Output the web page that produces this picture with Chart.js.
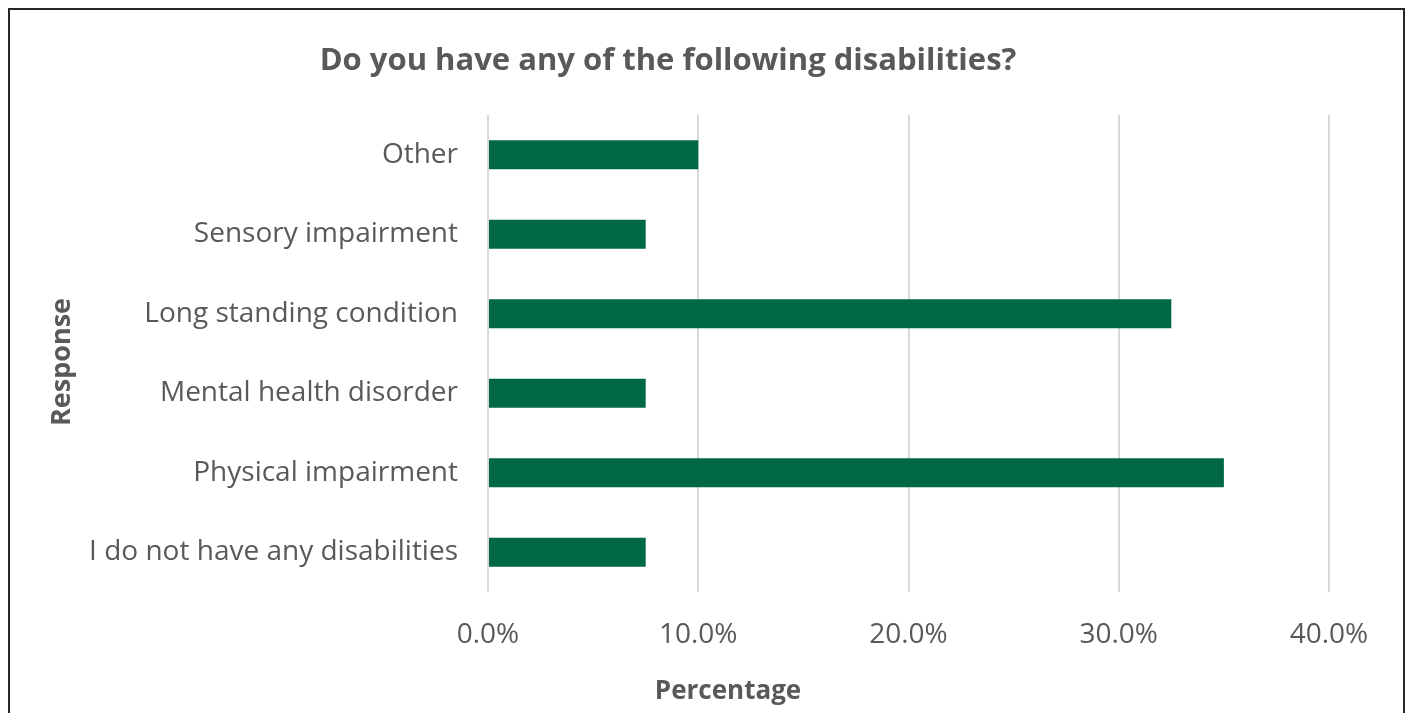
<!DOCTYPE html>
<html>
<head>
<meta charset="utf-8">
<script src="https://cdn.jsdelivr.net/npm/chart.js@4"></script>
<style>
    html, body { margin: 0; padding: 0; background: #fff; overflow: hidden; }
    #frame {
        position: absolute; left: 8px; top: 8px;
        width: 1393px; height: 720px;
        border: 2px solid #262626;
    }
    #chart { display: block; }
</style>
</head>
<body>
<div id="frame"><canvas id="chart" width="1393" height="703"></canvas></div>
<script>
// ================= DATA =================
const categories = [
    'Other',
    'Sensory impairment',
    'Long standing condition',
    'Mental health disorder',
    'Physical impairment',
    'I do not have any disabilities'
];
const percentages = [10.0, 7.5, 32.5, 7.5, 35.0, 7.5];
const xTicks = [0, 10, 20, 30, 40];

const chartTitle = 'Do you have any of the following disabilities?';
const xAxisTitle = 'Percentage';
const yAxisTitle = 'Response';
const textGray = '#595959';
const barGreen = '#006847';
const FONT = "'Open Sans', 'Noto Sans', sans-serif";

// titles placed like the original (Excel puts them off the plot centre)
const titlePlugin = {
    id: 'frameTitles',
    afterDraw(chart) {
        const ctx = chart.ctx;
        ctx.save();
        ctx.fillStyle = textGray;
        ctx.textAlign = 'center';
        ctx.textBaseline = 'middle';
        ctx.font = 'bold 31px ' + FONT;
        ctx.fillText(chartTitle, 658, 51);
        ctx.font = 'bold 26px ' + FONT;
        ctx.fillText(xAxisTitle, 718, 682);
        ctx.translate(52, 352);
        ctx.rotate(-Math.PI / 2);
        ctx.font = 'bold 27px ' + FONT;
        ctx.fillText(yAxisTitle, 0, 0);
        ctx.restore();
    }
};

// ================= CHART =================
new Chart(document.getElementById('chart'), {
    type: 'bar',
    data: {
        labels: categories,
        datasets: [{
            data: percentages,
            backgroundColor: barGreen,
            barPercentage: 1.0,
            categoryPercentage: 0.365
        }]
    },
    plugins: [titlePlugin],
    options: {
        indexAxis: 'y',
        responsive: false,
        animation: false,
        layout: { padding: { top: 105, right: 74, bottom: 0, left: 0 } },
        plugins: {
            legend: { display: false },
            tooltip: { enabled: false }
        },
        scales: {
            x: {
                min: 0,
                max: 40,
                afterBuildTicks(scale) {
                    scale.ticks = xTicks.map(v => ({ value: v }));
                },
                afterFit(scale) { scale.height = 121; },
                grid: { color: '#d9d9d9', lineWidth: 2, drawTicks: false },
                border: { display: false },
                ticks: {
                    padding: 26,
                    color: textGray,
                    font: { family: FONT, size: 28 },
                    callback: v => v.toFixed(1) + '%'
                }
            },
            y: {
                afterFit(scale) { scale.width = 478; },
                grid: { display: false },
                border: { display: false },
                ticks: {
                    padding: 22,
                    color: textGray,
                    font: { family: FONT, size: 28 }
                }
            }
        }
    }
});
</script>
</body>
</html>
